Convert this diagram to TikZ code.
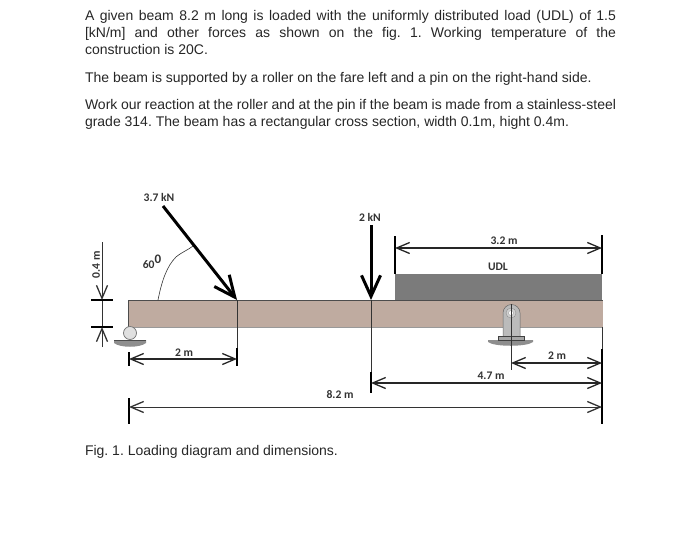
\documentclass[tikz,border=0pt]{standalone}
\usepackage{fontspec}
\setmainfont{Liberation Sans}
\newfontfamily\labelfont{Carlito}
\usetikzlibrary{arrows.meta,positioning,calc}
\definecolor{beamcol}{HTML}{BFABA0}
\definecolor{udlcol}{HTML}{7B7B7B}
\definecolor{supportcol}{HTML}{BBBBBB}
\definecolor{groundcol}{HTML}{8E8E8E}
\frenchspacing
\begin{document}
\begin{tikzpicture}[x=1pt, y=-1pt, >={Straight Barb[length=13pt,width=11pt,line width=1.3pt]}]
	\tikzstyle{every node}=[inner sep=0pt, outer sep=0pt]
	\tikzstyle{para}=[anchor=north west, text width=531pt, align=justify, font=\fontsize{14}{17}\selectfont, text=black!85]
	\tikzstyle{dimlabel}=[font=\labelfont\bfseries\fontsize{11.6}{13}\selectfont, text=black!80]
	\tikzstyle{dimline}=[<->, line width=1.1pt, black!85]
	\tikzstyle{tick}=[line width=1.4pt, black]
	\tikzstyle{thin line}=[line width=0.5pt, black!80]
	\tikzstyle{force}=[->, >={Straight Barb[length=21pt,width=19pt,line width=3pt]}, line width=3pt, black]
	\useasboundingbox (0,0) rectangle (700,546);

	% text above and below the figure
	\node[para] (intro)   at (85,10)  {A given beam 8.2 m long is loaded with the uniformly distributed load (UDL) of 1.5\linebreak{} [kN/m] and other forces as shown on the fig. 1. Working temperature of the\linebreak{} construction is 20C.};
	\node[para] (support) at (85,72)  {The beam is supported by a roller on the fare left and a pin on the right-hand side.};
	\node[para] (task)    at (85,99)  {Work our reaction at the roller and at the pin if the beam is made from a stainless-steel\linebreak{} grade 314. The beam has a rectangular cross section, width 0.1m, hight 0.4m.};
	\node[para] (caption) at (85,445) {Fig. 1. Loading diagram and dimensions.};

	% beam and load
	\fill[udlcol] (395,274) rectangle (602,300);
	\fill[beamcol] (128,300) rectangle (603,327);
	\draw[line width=0.9pt, black!70] (128,327) -- (128,300) -- (603,300);
	\draw[line width=0.4pt, black!40] (128,327) -- (603,327);

	% roller
	\fill[groundcol] (114,340) -- (146,340) -- (146,343) .. controls (140,348) and (120,348) .. (114,343) -- cycle;
	\draw[line width=0.8pt, black!70] (114,340) -- (146,340);
	\node[circle, draw=black!55, fill=black!12, line width=0.7pt, minimum size=13pt] (roller) at (130,333) {};

	% pin
	\fill[groundcol] (488,340) -- (533,340) -- (533,342) .. controls (527,347) and (494,347) .. (488,342) -- cycle;
	\fill[supportcol] (503,337) -- (503,313) arc[start angle=180, end angle=0, radius=8.5pt] -- (520,337) -- cycle;
	\draw[line width=0.5pt, black!60] (503,337) -- (503,313) arc[start angle=180, end angle=0, radius=8.5pt] -- (520,337);
	\draw[line width=0.8pt, black!75, fill=black!35] (498,336) rectangle (524,340);
	\node[circle, draw=black!45, fill=black!18, line width=0.4pt, minimum size=10pt] (pinring) at (511,313) {};
	\node[circle, draw=black!40, fill=white, line width=0.4pt, minimum size=5pt] (pin) at (511,313) {};

	% points of the dimensions
	\coordinate (f1start) at (163,206);
	\coordinate (f1end)   at (237,300);
	\coordinate (f2start) at (371,225);
	\coordinate (f2end)   at (371,300);
	\coordinate (udlL)    at (395,248);
	\coordinate (udlR)    at (602,248);
	\coordinate (leftA)   at (129,359);
	\coordinate (leftB)   at (237,359);
	\coordinate (pinA)    at (511,363);
	\coordinate (pinB)    at (602,363);
	\coordinate (midA)    at (371,383);
	\coordinate (midB)    at (602,383);
	\coordinate (longA)   at (129,407);
	\coordinate (longB)   at (602,407);
	\coordinate (hTop)    at (102,242);
	\coordinate (hUp)     at (102,300);
	\coordinate (hDown)   at (102,327);
	\coordinate (hBottom) at (102,347);

	% extension lines
	\draw[thin line] (237,300) -- (237,350);
	\draw[thin line] (371,300) -- (371,374);
	\draw[thin line] (511,304) -- (511,370);
	\draw[thin line] (602,327) -- (602,350);
	\draw[thin line] (hUp) -- (hDown);

	% ticks
	\draw[tick] (395,236) -- (395,274);
	\draw[tick] (602,235) -- (602,274);
	\draw[tick] (129,352) -- (129,366);
	\draw[tick] (237,348) -- (237,366);
	\draw[tick] (371,372) -- (371,393);
	\draw[tick] (602,349) -- (602,424);
	\draw[tick] (129,398) -- (129,424);
	\draw[tick] (91,300) -- (113,300);
	\draw[tick] (91,327) -- (113,327);

	% dimensions
	\draw[dimline] (udlL) -- (udlR);
	\draw[dimline] (leftA) -- (leftB);
	\draw[dimline] (pinA) -- (pinB);
	\draw[dimline] (midA) -- (midB);
	\draw[<->, thin line, line width=0.7pt] (longA) -- (longB);
	\draw[->, thin line, line width=0.7pt] (hTop) -- (hUp);
	\draw[->, thin line, line width=0.9pt] (hBottom) -- (hDown);

	% forces
	\draw[force] (f1start) -- (f1end);
	\draw[force] (f2start) -- (f2end);
	\draw[thin line, line width=0.6pt] (158,300) .. controls (162,280) and (167,266) .. (176,257) .. controls (182,252) and (188,250) .. (193,246);

	% labels
	\node[dimlabel] (f1label)  at (159,197) {3.7 kN};
	\node[dimlabel] (f2label)  at (370,217) {2 kN};
	\node[dimlabel] (angle) at (152,262) {60\raisebox{4.5pt}{\fontsize{13}{13}\selectfont 0}};
	\node[dimlabel] (udllabel) at (498,267) {UDL};
	\node[dimlabel] (udldim)   at (504,241) {3.2 m};
	\node[dimlabel] (leftdim)  at (184,353) {2 m};
	\node[dimlabel] (pindim)   at (557,356) {2 m};
	\node[dimlabel] (middim)   at (491,376) {4.7 m};
	\node[dimlabel] (longdim)  at (340,395) {8.2 m};
	\node[dimlabel, rotate=90] (hdim) at (96,265) {0.4 m};
\end{tikzpicture}
\end{document}
